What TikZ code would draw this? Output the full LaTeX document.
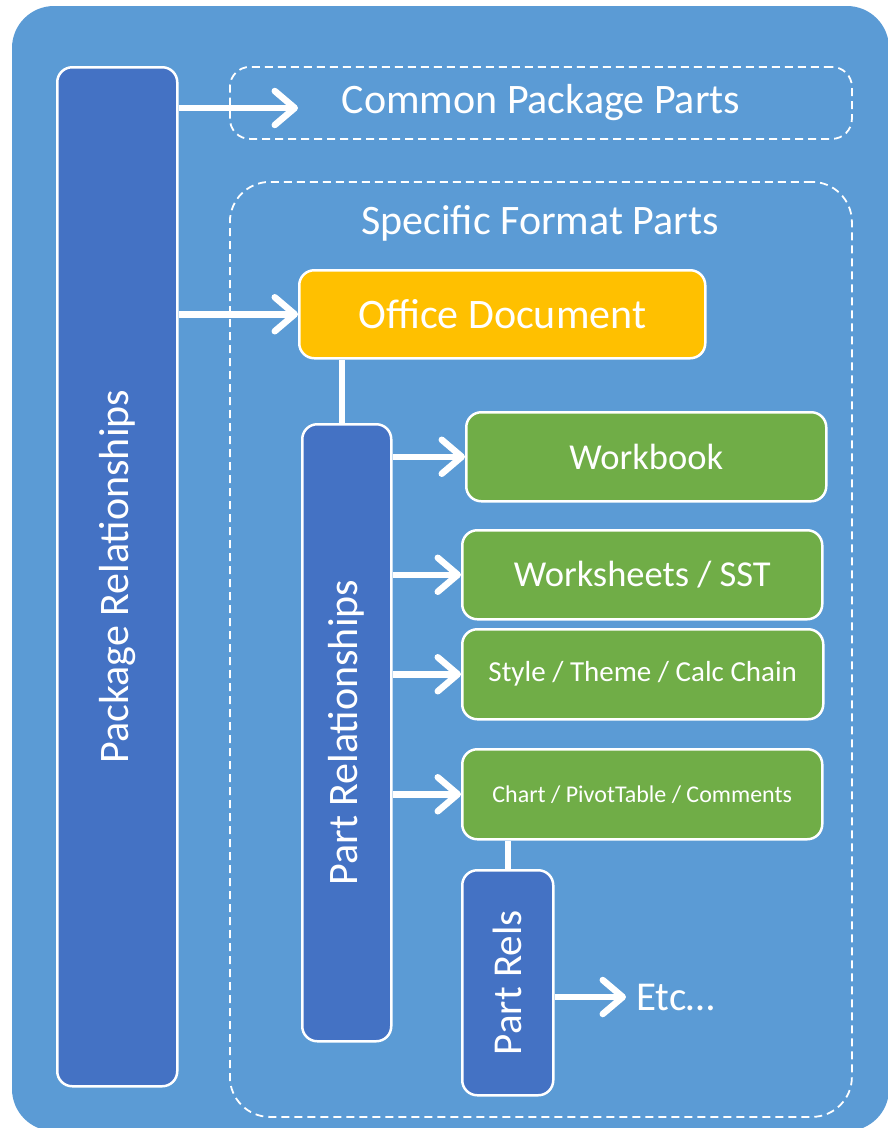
\documentclass[tikz,border=0pt]{standalone}
\usepackage{fontspec}
\setmainfont{Carlito}
\usetikzlibrary{arrows.meta}

\definecolor{bgblue}{HTML}{5B9BD5}
\definecolor{darkblue}{HTML}{4472C4}
\definecolor{gold}{HTML}{FFC000}
\definecolor{leaf}{HTML}{70AD47}

\newcommand{\fs}[1]{\fontsize{#1}{#1}\selectfont}

\tikzset{
  box/.style={draw=white, line width=2.5pt, rounded corners=15pt, inner sep=0pt,
    anchor=north west, text=white, align=center},
  bluebox/.style={box, fill=darkblue},
  goldbox/.style={box, fill=gold},
  greenbox/.style={box, fill=leaf},
  dashbox/.style={draw=white, line width=1.8pt, dash pattern=on 8pt off 5pt},
  link/.style={draw=white, line width=6.5pt,
    -{Straight Barb[length=20pt, width=34pt, round]}},
  conn/.style={draw=white, line width=6pt},
}

\begin{document}
\begin{tikzpicture}[x=1pt, y=-1pt]
  \useasboundingbox (0,0) rectangle (887,1128);
  % panel
  \fill[bgblue, rounded corners=42pt] (12,6) rectangle (889,1131);

  % dashed groups
  \node[dashbox, rounded corners=20pt, anchor=north west, inner sep=0pt,
        minimum width=622pt, minimum height=72pt, text=white]
        (common) at (229,66) {\fs{42}Common Package Parts};
  \node[dashbox, rounded corners=40pt, anchor=north west, inner sep=0pt,
        minimum width=622pt, minimum height=935pt] (specific) at (229,181) {};
  \node[text=white, inner sep=0pt] (spectitle) at (540,223) {\fs{42}Specific Format Parts};

  % boxes
  \node[bluebox, minimum width=120pt, minimum height=1019pt] (pkg) at (56,66)
        {\rotatebox{90}{\fs{42}Package Relationships}};
  \node[goldbox, minimum width=406pt, minimum height=88pt] (office) at (298,269)
        {\fs{42}Office Document};
  \node[bluebox, minimum width=89pt, minimum height=617pt] (partrel) at (301,423)
        {\rotatebox{90}{\fs{42}Part Relationships}};
  \node[greenbox, minimum width=360pt, minimum height=89pt] (workbook) at (465,411)
        {\fs{36.5}Workbook};
  \node[greenbox, minimum width=360pt, minimum height=89pt] (sheets) at (461,529)
        {\fs{36.5}Worksheets / SST};
  \node[greenbox, minimum width=361pt, minimum height=90pt] (style) at (461,628)
        {\fs{29}Style / Theme / Calc Chain};
  \node[greenbox, minimum width=360pt, minimum height=90pt] (chart) at (461,748)
        {\fs{24}Chart / PivotTable / Comments};
  \node[bluebox, minimum width=91pt, minimum height=225pt] (partrels) at (461,869)
        {\rotatebox{90}{\fs{41}Part Rels}};
  \node[text=white, anchor=west, inner sep=0pt] (etc) at (636,997) {\fs{41}Etc\dots};

  % free arrow ends
  \coordinate (commonend) at (298,108);
  \coordinate (etcend) at (626,997);

  % connectors
  \draw[link] (pkg.east |- commonend) -- (commonend);
  \draw[link] (pkg.east |- office.west) -- (office.west);
  \draw[conn] ([xshift=-4.5pt]partrel.north) -- ([xshift=-4.5pt]partrel.north |- office.south);
  \draw[link] (partrel.east |- workbook.west) -- (workbook.west);
  \draw[link] (partrel.east |- sheets.west) -- (sheets.west);
  \draw[link] (partrel.east |- style.west) -- (style.west);
  \draw[link] (partrel.east |- chart.west) -- (chart.west);
  \draw[conn] (partrels.north) -- (partrels.north |- chart.south);
  \draw[link] (partrels.east |- etcend) -- (etcend);
\end{tikzpicture}
\end{document}
